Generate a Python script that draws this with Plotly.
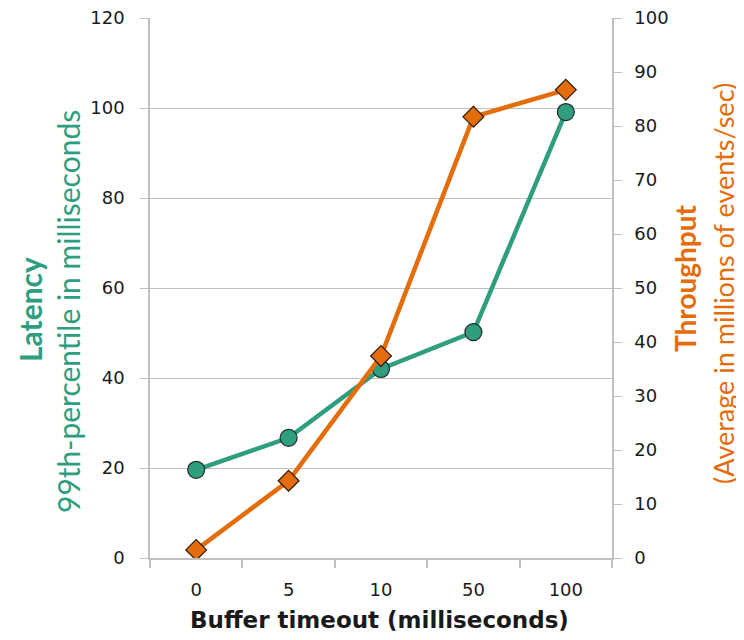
import plotly.graph_objects as go

categories = ["0", "5", "10", "50", "100"]
latency = [19.6, 26.7, 42.0, 50.2, 99.1]
throughput = [1.5, 14.3, 37.4, 81.7, 86.7]

left_ticks = [0, 20, 40, 60, 80, 100, 120]
right_ticks = [0, 10, 20, 30, 40, 50, 60, 70, 80, 90, 100]

GREEN = "#2E9E7E"
ORANGE = "#E46C0A"
GRID = "#BFBFBF"
TXT = "#1a1a1a"

fig = go.Figure()
fig.add_trace(go.Scatter(
    x=categories, y=latency, mode="lines+markers",
    line=dict(color=GREEN, width=4.5),
    marker=dict(symbol="circle", size=17, color=GREEN, line=dict(color="#1e2a25", width=1.2)),
    yaxis="y", name="Latency", showlegend=False))
fig.add_trace(go.Scatter(
    x=categories, y=throughput, mode="lines+markers",
    line=dict(color=ORANGE, width=4.5),
    marker=dict(symbol="diamond", size=16, color=ORANGE, line=dict(color="#2a1a0a", width=1.2)),
    yaxis="y2", name="Throughput", showlegend=False))

# plot area in page pixels: x 150..612, y 18..558
def px(xp):
    return (xp - 150) / 462.0

def py(yp):
    return (558 - yp) / 540.0

annos = [
    dict(text="<b>Latency</b>", x=px(30), y=py(310), size=30, color=GREEN),
    dict(text="99th-percentile in milliseconds", x=px(68), y=py(312), size=30, color=GREEN),
    dict(text="<b>Throughput</b>", x=px(685), y=py(278), size=28, color=ORANGE),
    dict(text="(Average in millions of events/sec)", x=px(723), y=py(284), size=27, color=ORANGE),
    dict(text="<b>Buffer timeout (milliseconds)</b>", x=px(379), y=py(620), size=23, color=TXT,
         family="DejaVu Sans", angle=0),
]
for a in annos:
    fig.add_annotation(
        text=a["text"], x=a["x"], y=a["y"], xref="paper", yref="paper",
        xanchor="center", yanchor="middle", textangle=a.get("angle", -90), showarrow=False,
        font=dict(family=a.get("family", "Lato"), size=a["size"], color=a["color"]))

fig.update_layout(
    width=736, height=624,
    margin=dict(l=142, r=132, t=10, b=74),
    plot_bgcolor="white", paper_bgcolor="white",
    font=dict(family="DejaVu Sans", size=18, color=TXT),
    xaxis=dict(
        type="category", range=[-0.5, 4.5], automargin=False,
        tickson="boundaries", ticks="outside", ticklen=8, tickcolor=GRID, tickwidth=1.5,
        ticklabelstandoff=15,
        showline=True, linecolor=GRID, linewidth=1.5, showgrid=False,
        tickfont=dict(family="DejaVu Sans", size=18, color=TXT),
    ),
    yaxis=dict(
        range=[0, 120], tickvals=left_ticks, showgrid=True, gridcolor=GRID, gridwidth=1.2,
        automargin=False,
        ticks="outside", ticklen=8, tickcolor=GRID, tickwidth=1.2,
        ticklabelstandoff=12, ticklabeloverflow="allow",
        showline=True, linecolor=GRID, linewidth=1.5, zeroline=False,
        tickfont=dict(family="DejaVu Sans", size=18, color=TXT),
    ),
    yaxis2=dict(
        range=[0, 100], tickvals=right_ticks, overlaying="y", side="right",
        showgrid=False, zeroline=False, automargin=False,
        ticks="outside", ticklen=8, tickcolor=GRID, tickwidth=1.2,
        ticklabelstandoff=9, ticklabeloverflow="allow",
        showline=True, linecolor=GRID, linewidth=1.5,
        tickfont=dict(family="DejaVu Sans", size=18, color=TXT),
    ),
)

fig.write_html("out.html")
